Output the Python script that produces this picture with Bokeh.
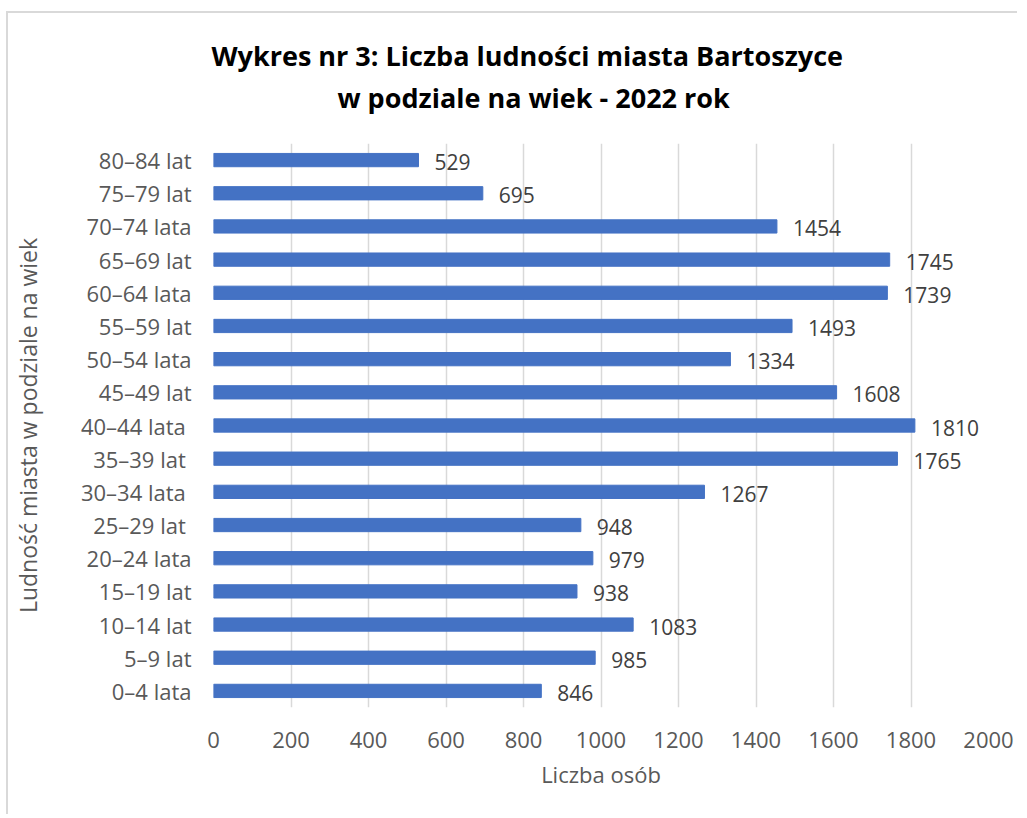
from bokeh.plotting import figure
from bokeh.models import ColumnDataSource, FactorRange, Range1d, LabelSet, Title, FixedTicker
from bokeh.core.properties import value
from bokeh.embed import file_html
from bokeh.resources import INLINE

categories = ["0–4 lata", "5–9 lat", "10–14 lat", "15–19 lat", "20–24 lata",
              "25–29 lat ", "30–34 lata ", "35–39 lat ", "40–44 lata ", "45–49 lat",
              "50–54 lata", "55–59 lat", "60–64 lata", "65–69 lat", "70–74 lata",
              "75–79 lat", "80–84 lat"]
values = [846, 985, 1083, 938, 979, 948, 1267, 1765, 1810, 1608,
          1334, 1493, 1739, 1745, 1454, 695, 529]
x_ticks = [0, 200, 400, 600, 800, 1000, 1200, 1400, 1600, 1800, 2000]

title_line1 = "Wykres nr 3: Liczba ludności miasta Bartoszyce"
title_line2 = "w podziale na wiek - 2022 rok"
x_label = "Liczba osób"
y_label = "Ludność miasta w podziale na wiek"

FONT = "Open Sans"
TEXT_COLOR = "#595959"

source = ColumnDataSource(dict(cat=categories, val=values,
                               txt=[str(v) for v in values]))

p = figure(width=1011, height=803, output_backend="svg", toolbar_location=None,
           y_range=FactorRange(factors=categories, range_padding=0),
           x_range=Range1d(0, 2000),
           min_border_left=205, min_border_right=31, min_border_top=130,
           min_border_bottom=109, margin=(11, 0, 0, 6),
           background_fill_color="white", border_fill_color="white")
p.styles = {"border-left": "2px solid #d9d9d9", "border-top": "2px solid #d9d9d9"}
p.outline_line_color = None
p.y_range.range_padding = 0
p.y_range.factor_padding = 0

t2 = Title(text=title_line2, align="left", offset=124, text_font=FONT,
           text_font_size="27px", text_font_style="bold", text_color="#000000",
           standoff=55)
t1 = Title(text=title_line1, align="left", offset=-2, text_font=FONT,
           text_font_size="27px", text_font_style="bold", text_color="#000000",
           standoff=-49)
p.add_layout(t2, "above")
p.add_layout(t1, "above")

p.hbar(y="cat", right="val", left=0, height=0.4, source=source,
       fill_color="#4472C4", line_color="#4472C4")

labels = LabelSet(x="val", y="cat", text="txt", source=source, x_offset=16, y_offset=-2,
                  text_baseline="middle", text_align="left", text_font=value(FONT),
                  text_font_size=value("21px"), text_color="#404040")
p.add_layout(labels)

p.xaxis.ticker = FixedTicker(ticks=x_ticks)
p.xaxis.axis_line_color = None
p.xaxis.major_tick_line_color = None
p.xaxis.minor_tick_line_color = None
p.xaxis.major_label_standoff = 18
p.xaxis.major_label_text_font = FONT
p.xaxis.major_label_text_font_size = "22px"
p.xaxis.major_label_text_color = TEXT_COLOR
p.xaxis.axis_label = x_label
p.xaxis.axis_label_text_font = FONT
p.xaxis.axis_label_text_font_size = "22px"
p.xaxis.axis_label_text_font_style = "normal"
p.xaxis.axis_label_text_color = TEXT_COLOR
p.xaxis.axis_label_standoff = 8

p.yaxis.axis_line_color = None
p.yaxis.major_tick_line_color = None
p.yaxis.minor_tick_line_color = None
p.yaxis.major_label_standoff = 16
p.yaxis.major_label_text_font = FONT
p.yaxis.major_label_text_font_size = "22px"
p.yaxis.major_label_text_color = TEXT_COLOR
p.yaxis.axis_label = y_label
p.yaxis.axis_label_text_font = FONT
p.yaxis.axis_label_text_font_size = "23px"
p.yaxis.axis_label_text_font_style = "normal"
p.yaxis.axis_label_text_color = TEXT_COLOR
p.yaxis.axis_label_standoff = 34

p.xgrid.grid_line_color = "#d9d9d9"
p.xgrid.grid_line_width = 1.5
p.ygrid.grid_line_color = None

open("out.html", "w").write(file_html(p, INLINE))
